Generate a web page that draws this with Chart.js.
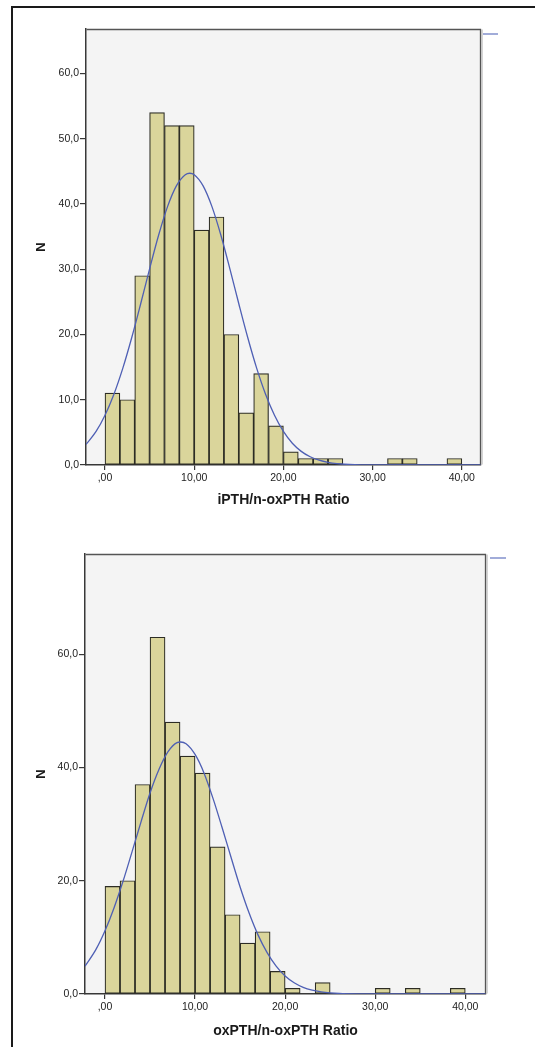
<!DOCTYPE html>
<html>
<head>
<meta charset="utf-8">
<script src="https://cdn.jsdelivr.net/npm/chart.js@4.4.1/dist/chart.umd.min.js"></script>
<style>
  html, body { margin: 0; padding: 0; background: #ffffff; }
  body { width: 535px; height: 1047px; position: relative; overflow: hidden; }
  #frame { position: absolute; left: 11px; top: 6px; width: 540px; height: 1060px; border: 2px solid #1a1a1a; box-sizing: border-box; }
  .wrap { position: absolute; left: 0; width: 535px; }
  #w1 { top: 0; height: 520px; }
  #w2 { top: 520px; height: 527px; }
</style>
</head>
<body>
<div id="frame"></div>
<div class="wrap" id="w1"><canvas id="c1" width="535" height="520"></canvas></div>
<div class="wrap" id="w2"><canvas id="c2" width="535" height="527"></canvas></div>
<script>
// ---- data ----
const binCenters = [0.833, 2.5, 4.167, 5.833, 7.5, 9.167, 10.833, 12.5, 14.167, 15.833, 17.5, 19.167,
                    20.833, 22.5, 24.167, 25.833, 27.5, 29.167, 30.833, 32.5, 34.167, 35.833, 37.5, 39.167];
const iPTHCounts  = [11, 10, 29, 54, 52, 52, 36, 38, 20, 8, 14, 6, 2, 1, 1, 1, 0, 0, 0, 1, 1, 0, 0, 1];
const oxPTHCounts = [19, 20, 37, 63, 48, 42, 39, 26, 14, 9, 11, 4, 1, 0, 2, 0, 0, 0, 1, 0, 1, 0, 0, 1];

const iPTHCurveX = [-2.13, -1, 0, 1, 2, 3, 4, 5, 6, 7, 8, 9, 9.5, 10, 11, 12, 13, 14, 15, 16, 17, 18, 19, 20,
                    21, 22, 23, 24, 25, 26, 28, 30, 34, 38, 42.15];
const iPTHCurveY = [3.15, 5.14, 7.62, 10.84, 14.84, 19.53, 24.7, 30.05, 35.16, 39.55, 42.77, 44.48, 44.7, 44.48,
                    42.77, 39.55, 35.16, 30.05, 24.7, 19.53, 14.84, 10.84, 7.62, 5.14, 3.34, 2.09, 1.26, 0.73,
                    0.4, 0.21, 0.05, 0.01, 0, 0, 0];
const oxPTHCurveX = [-2.22, -1, 0, 1, 2, 3, 4, 5, 6, 7, 8, 8.4, 9, 10, 11, 12, 13, 14, 15, 16, 17, 18, 19, 20,
                     21, 22, 23, 24, 25, 26, 28, 30, 34, 38, 42.3];
const oxPTHCurveY = [4.9, 7.87, 11.16, 15.2, 19.9, 25.1, 30.4, 35.5, 39.7, 42.8, 44.4, 44.5, 44.2, 42.3, 39.0,
                     34.5, 29.4, 24.1, 18.9, 14.3, 10.4, 7.31, 4.92, 3.18, 1.98, 1.18, 0.68, 0.38, 0.2, 0.1,
                     0.02, 0, 0, 0, 0];

const xTicks = [0, 10, 20, 30, 40];
const xTickLabels = [',00', '10,00', '20,00', '30,00', '40,00'];
const yTicksTop = [0, 10, 20, 30, 40, 50, 60];
const yTickLabelsTop = ['0,0', '10,0', '20,0', '30,0', '40,0', '50,0', '60,0'];
const yTicksBottom = [0, 20, 40, 60];
const yTickLabelsBottom = ['0,0', '20,0', '40,0', '60,0'];

// ---- styling ----
const FONT = "'Liberation Sans', Arial, sans-serif";
const BAR_FILL = '#dad59b';
const BAR_EDGE = '#2c2c24';
const CURVE = '#4e5fb4';
const AXIS = '#383838';
const PLOT_BG = '#f4f4f4';

const plotFrame = {
  id: 'plotFrame',
  beforeDraw(chart) {
    const a = chart.chartArea, ctx = chart.ctx;
    ctx.save();
    ctx.fillStyle = PLOT_BG;
    ctx.fillRect(a.left, a.top, a.right - a.left, a.bottom - a.top);
    ctx.restore();
  },
  afterDraw(chart, args, opts) {
    const a = chart.chartArea, ctx = chart.ctx;
    ctx.save();
    ctx.strokeStyle = '#555555';
    ctx.lineWidth = 1.3;
    const l = Math.round(a.left) + 0.5, t = Math.round(a.top) + 0.5;
    const r = Math.round(a.right) - 0.5, b = Math.round(a.bottom) - 0.5;
    ctx.beginPath();
    ctx.moveTo(l, t); ctx.lineTo(r, t); ctx.lineTo(r, b);
    ctx.stroke();
    ctx.strokeStyle = '#aaaaaa';
    ctx.lineWidth = 1;
    ctx.beginPath();
    ctx.moveTo(r + 1.5, t); ctx.lineTo(r + 1.5, b);
    ctx.stroke();
    // legend marker for the normal curve
    ctx.strokeStyle = '#6f7fc4';
    ctx.lineWidth = 1.3;
    ctx.beginPath();
    ctx.moveTo(a.right + opts.dx, a.top + opts.dy);
    ctx.lineTo(a.right + opts.dx + opts.len, a.top + opts.dy);
    ctx.stroke();
    ctx.restore();
  }
};

function makeChart(canvasId, counts, curveX, curveY, cfg) {
  const barData = binCenters.map((x, i) => ({ x: x, y: counts[i] }));
  const lineData = curveX.map((x, i) => ({ x: x, y: curveY[i] }));
  return new Chart(document.getElementById(canvasId), {
    type: 'bar',
    data: {
      datasets: [
        {
          type: 'line', data: lineData, borderColor: CURVE, borderWidth: 1.3,
          pointRadius: 0, cubicInterpolationMode: 'monotone', fill: false, order: 0
        },
        {
          type: 'bar', data: barData, backgroundColor: BAR_FILL, borderColor: BAR_EDGE,
          borderWidth: 1.2, barPercentage: 1, categoryPercentage: 1, borderSkipped: false, order: 1
        }
      ]
    },
    options: {
      responsive: false,
      animation: false,
      events: [],
      layout: { padding: cfg.padding },
      plugins: {
        legend: { display: false },
        tooltip: { enabled: false },
        plotFrame: cfg.legendMark
      },
      scales: {
        x: {
          type: 'linear', min: cfg.xMin, max: cfg.xMax, offset: false,
          afterBuildTicks: s => { s.ticks = xTicks.map(v => ({ value: v })); },
          afterFit: s => { s.height = cfg.xAxisHeight; },
          ticks: {
            autoSkip: false, maxRotation: 0, padding: 2, color: '#222222',
            font: { family: FONT, size: 10.5 },
            callback: (v) => xTickLabels[xTicks.indexOf(v)]
          },
          grid: { display: true, offset: false, drawOnChartArea: false, drawTicks: true, tickLength: 5, color: AXIS, lineWidth: 1.2 },
          border: { display: true, color: AXIS, width: 1.5 },
          title: {
            display: true, text: cfg.xTitle, color: '#1a1a1a',
            font: { family: FONT, size: 14, weight: 'bold' },
            padding: { top: 0, bottom: cfg.xTitlePad }
          }
        },
        y: {
          type: 'linear', min: 0, max: cfg.yMax,
          afterBuildTicks: s => { s.ticks = cfg.yTicks.map(v => ({ value: v })); },
          afterFit: s => { s.width = cfg.yAxisWidth; },
          ticks: {
            autoSkip: false, padding: 1, color: '#222222',
            font: { family: FONT, size: 10.5 },
            callback: (v) => cfg.yTickLabels[cfg.yTicks.indexOf(v)]
          },
          grid: { display: true, offset: false, drawOnChartArea: false, drawTicks: true, tickLength: 6, color: AXIS, lineWidth: 1.2 },
          border: { display: true, color: AXIS, width: 1.5 },
          title: {
            display: true, text: 'N', color: '#1a1a1a',
            font: { family: FONT, size: 13, weight: 'bold' },
            padding: { top: 34, bottom: 0 }
          }
        }
      }
    },
    plugins: [plotFrame]
  });
}

makeChart('c1', iPTHCounts, iPTHCurveX, iPTHCurveY, {
  padding: { top: 29, right: 54, left: 0, bottom: 0 },
  xMin: -2.13, xMax: 42.15, yMax: 66.8,
  xAxisHeight: 55, yAxisWidth: 86, xTitlePad: 11,
  yTicks: yTicksTop, yTickLabels: yTickLabelsTop,
  xTitle: 'iPTH/n-oxPTH Ratio',
  legendMark: { dx: 2, dy: 5, len: 15 }
});

makeChart('c2', oxPTHCounts, oxPTHCurveX, oxPTHCurveY, {
  padding: { top: 34, right: 49, left: 0, bottom: 0 },
  xMin: -2.22, xMax: 42.3, yMax: 77.7,
  xAxisHeight: 53, yAxisWidth: 85, xTitlePad: 7,
  yTicks: yTicksBottom, yTickLabels: yTickLabelsBottom,
  xTitle: 'oxPTH/n-oxPTH Ratio',
  legendMark: { dx: 4, dy: 4, len: 16 }
});
</script>
</body>
</html>
